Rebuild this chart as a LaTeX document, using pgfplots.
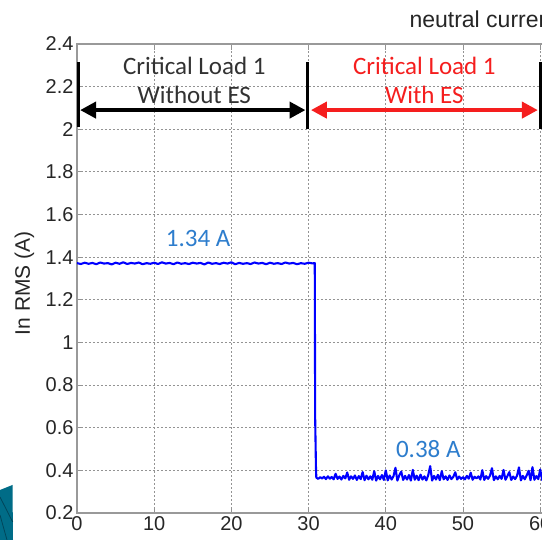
\documentclass[border=0pt]{standalone}
\usepackage{fontspec}
\setmainfont{Liberation Sans}
\newfontfamily\calibri{Carlito}
\usepackage{pgfplots}
\pgfplotsset{compat=1.18}
\usetikzlibrary{arrows.meta}

\definecolor{traceblue}{RGB}{0,0,255}
\definecolor{labelblue}{RGB}{45,125,205}
\definecolor{withred}{RGB}{245,30,30}
\definecolor{textgray}{RGB}{50,50,50}
\definecolor{slideteal}{RGB}{0,108,135}
\definecolor{slidedark}{RGB}{0,70,90}

\begin{document}
\begin{tikzpicture}[x=1pt,y=1pt]
\useasboundingbox (0,0) rectangle (542,540);
\clip (0,0) rectangle (542,540);
\fill[white] (0,0) rectangle (542,540);

% corner of the slide background
\fill[slideteal] (0,50) -- (12.5,55) -- (13,0) -- (0,0) -- cycle;
\draw[slidedark, line width=0.8pt] (0,43) -- (12.7,18);
\draw[slidedark, line width=0.8pt] (0,25) -- (7,0);

\begin{axis}[
  at={(77pt,27pt)}, anchor=south west,
  scale only axis, width=617.6pt, height=469pt,
  xmin=0, xmax=80, ymin=0.2, ymax=2.4,
  xtick={0,10,...,80},
  ytick={0.2,0.4,0.6,0.8,1,1.2,1.4,1.6,1.8,2,2.2,2.4},
  /pgf/number format/assume math mode=true,
  ticklabel style={font=\fontsize{20}{24}\selectfont, text=black!85},
  tick align=inside, major tick length=6pt,
  tick style={gray!85, line width=0.9pt},
  axis line style={gray!80, line width=1.3pt},
  grid=major,
  major grid style={gray!85, line width=0.9pt, dash pattern=on 2pt off 2pt},
  ylabel={In RMS (A)},
  ylabel style={font=\fontsize{21}{25}\selectfont, text=black!85,
                at={(axis description cs:-0.085,0.49)}, anchor=center},
]

% neutral current RMS: before and after the energy storage is switched in
\addplot[traceblue, line width=2.1pt, line join=round] coordinates {
(0,1.372) (0.5,1.368) (1,1.374) (1.5,1.369) (2,1.373) (2.5,1.367) (3,1.375) (3.5,1.370)
(4,1.372) (4.5,1.366) (5,1.374) (5.5,1.369) (6,1.376) (6.5,1.368) (7,1.373) (7.5,1.370)
(8,1.375) (8.5,1.367) (9,1.372) (9.5,1.369) (10,1.374) (10.5,1.368) (11,1.376) (11.5,1.370)
(12,1.373) (12.5,1.367) (13,1.375) (13.5,1.369) (14,1.372) (14.5,1.368) (15,1.374) (15.5,1.370)
(16,1.373) (16.5,1.366) (17,1.375) (17.5,1.369) (18,1.372) (18.5,1.368) (19,1.374) (19.5,1.370)
(20,1.376) (20.5,1.367) (21,1.373) (21.5,1.369) (22,1.372) (22.5,1.368) (23,1.375) (23.5,1.370)
(24,1.373) (24.5,1.367) (25,1.374) (25.5,1.369) (26,1.372) (26.5,1.368) (27,1.375) (27.5,1.370)
(28,1.373) (28.5,1.367) (29,1.372) (29.5,1.369) (30,1.374) (30.5,1.371) (30.8,1.372)
(30.85,0.65) (30.95,0.42)
(31.00,0.366) (31.25,0.360) (31.50,0.368) (31.75,0.362) (32.00,0.370) (32.25,0.359)
(32.50,0.372) (32.75,0.361) (33.00,0.369) (33.25,0.358) (33.50,0.384) (33.75,0.360)
(34.00,0.371) (34.25,0.357) (34.50,0.374) (34.75,0.362) (35.00,0.390) (35.25,0.356)
(35.50,0.372) (35.75,0.360) (36.00,0.376) (36.25,0.355) (36.50,0.373) (36.75,0.359)
(37.00,0.392) (37.25,0.354) (37.50,0.375) (37.75,0.358) (38.00,0.372) (38.25,0.356)
(38.50,0.396) (38.75,0.352) (39.00,0.374) (39.25,0.358) (39.50,0.378) (39.75,0.355)
(40.00,0.400) (40.25,0.353) (40.50,0.376) (40.75,0.357) (41.00,0.373) (41.25,0.412)
(41.50,0.352) (41.75,0.377) (42.00,0.394) (42.25,0.355) (42.50,0.374) (42.75,0.357)
(43.00,0.378) (43.25,0.352) (43.50,0.402) (43.75,0.356) (44.00,0.375) (44.25,0.354)
(44.50,0.380) (44.75,0.357) (45.00,0.372) (45.25,0.353) (45.50,0.378) (45.75,0.420)
(46.00,0.352) (46.25,0.374) (46.50,0.357) (46.75,0.379) (47.00,0.354) (47.25,0.396)
(47.50,0.358) (47.75,0.372) (48.00,0.355) (48.25,0.376) (48.50,0.359) (48.75,0.370)
(49.00,0.391) (49.25,0.357) (49.50,0.371) (49.75,0.360) (50.00,0.368) (50.25,0.358)
(50.50,0.374) (50.75,0.361) (51.00,0.389) (51.25,0.356) (51.50,0.370) (51.75,0.362)
(52.00,0.372) (52.25,0.357) (52.50,0.401) (52.75,0.355) (53.00,0.373) (53.25,0.360)
(53.50,0.375) (53.75,0.410) (54.00,0.354) (54.25,0.372) (54.50,0.358) (54.75,0.374)
(55.00,0.360) (55.25,0.402) (55.50,0.356) (55.75,0.373) (56.00,0.392) (56.25,0.355)
(56.50,0.371) (56.75,0.359) (57.00,0.375) (57.25,0.414) (57.50,0.353) (57.75,0.374)
(58.00,0.358) (58.25,0.376) (58.50,0.398) (58.75,0.354) (59.00,0.415) (59.25,0.356)
(59.50,0.373) (59.75,0.359) (60.00,0.404) (60.25,0.355) (60.50,0.372) (60.75,0.360)
(61.00,0.370)
};

% interval markers
\draw[black, line width=3pt] (axis cs:0.15,2.315) -- (axis cs:0.15,2.01);
\draw[black, line width=3pt] (axis cs:29.9,2.315) -- (axis cs:29.9,2.0);
\draw[black, line width=3pt] (axis cs:60.1,2.315) -- (axis cs:60.1,2.0);
\draw[black, line width=4.5pt, {Triangle[length=16pt,width=16pt]}-{Triangle[length=16pt,width=16pt]}]
  (axis cs:0.4,2.09) -- (axis cs:29.6,2.09);
\draw[withred, line width=4.5pt, {Triangle[length=16pt,width=16pt]}-{Triangle[length=16pt,width=16pt]}]
  (axis cs:30.3,2.09) -- (axis cs:59.7,2.09);

\node[font=\calibri\fontsize{25}{30}\selectfont, text=textgray] at (axis cs:15.2,2.297) {Critical Load 1};
\node[font=\calibri\fontsize{25}{30}\selectfont, text=textgray] at (axis cs:15.2,2.16) {Without ES};
\node[font=\calibri\fontsize{25}{30}\selectfont, text=withred] at (axis cs:45.0,2.297) {Critical Load 1};
\node[font=\calibri\fontsize{25}{30}\selectfont, text=withred] at (axis cs:45.0,2.16) {With ES};

\node[font=\calibri\fontsize{25}{30}\selectfont, text=labelblue] at (axis cs:15.7,1.488) {1.34 A};
\node[font=\calibri\fontsize{25}{30}\selectfont, text=labelblue] at (axis cs:45.5,0.50) {0.38 A};
\end{axis}

\node[anchor=west, font=\fontsize{23}{27}\selectfont, text=black!85] at (406,521) {neutral current};
\end{tikzpicture}
\end{document}
